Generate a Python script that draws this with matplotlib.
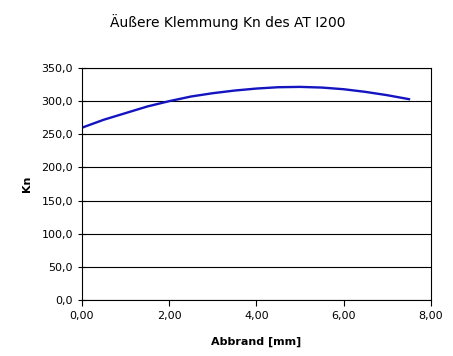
import numpy as np
import matplotlib
matplotlib.use('Agg')
import matplotlib.pyplot as plt
from matplotlib.ticker import FuncFormatter

# Abbrand [mm] vs Kn
abbrand = [0.0, 0.5, 1.0, 1.5, 2.0, 2.5, 3.0, 3.5, 4.0, 4.5, 5.0, 5.5, 6.0, 6.5, 7.0, 7.5]
kn      = [260, 272, 282, 292, 300, 307, 312, 316, 319, 321, 321.5, 320.5, 318, 314, 309, 303]

plt.rcParams['font.family'] = ['DejaVu Sans']

fig = plt.figure(figsize=(4.53, 3.56), dpi=100)
ax = fig.add_axes([0.181, 0.157, 0.770, 0.652])

ax.plot(abbrand, kn, color='#1414c0', lw=1.7)

ax.set_xlim(0, 8)
ax.set_ylim(0, 350)
ax.set_xticks(np.arange(0, 8.1, 2))
ax.set_yticks(np.arange(0, 351, 50))
ax.xaxis.set_major_formatter(FuncFormatter(lambda v, p: ('%.2f' % v).replace('.', ',')))
ax.yaxis.set_major_formatter(FuncFormatter(lambda v, p: ('%.1f' % v).replace('.', ',')))
ax.tick_params(axis='y', labelsize=8, direction='inout', length=6, width=0.8, color='black')
ax.tick_params(axis='x', labelsize=8, direction='out', length=4, width=0.8, color='black')
ax.yaxis.grid(True, color='black', lw=0.8)
ax.set_axisbelow(True)
for s in ax.spines.values():
    s.set_linewidth(0.8)

ax.set_xlabel('Abbrand [mm]', fontsize=8, fontweight='bold', labelpad=12)
ax.set_ylabel('Kn', fontsize=8, fontweight='bold', labelpad=7)
fig.text(0.503, 0.938, 'Äußere Klemmung Kn des AT I200', fontsize=10, ha='center', va='center')

fig.savefig('out.png', dpi=100)
